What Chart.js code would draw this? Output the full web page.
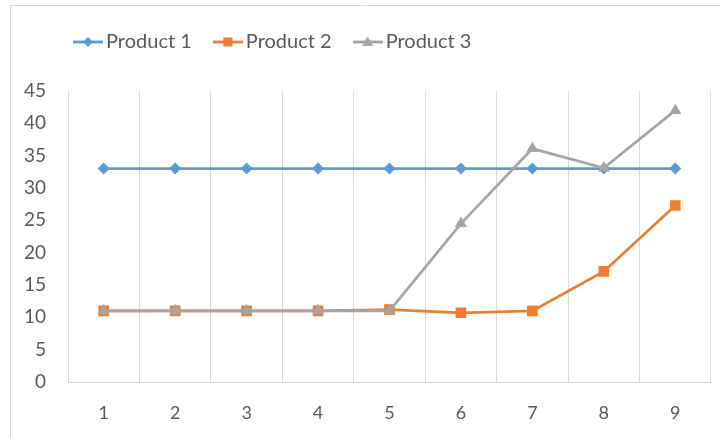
<!DOCTYPE html>
<html>
<head>
<meta charset="utf-8">
<script src="https://cdn.jsdelivr.net/npm/chart.js@4/dist/chart.umd.min.js"></script>
<style>
  html, body { margin: 0; padding: 0; background: #fff; }
  #wrap { width: 720px; height: 438px; position: relative; }
</style>
</head>
<body>
<div id="wrap"><canvas id="chart" width="720" height="438"></canvas></div>
<script>
// Categories and series values
const categories = ['1', '2', '3', '4', '5', '6', '7', '8', '9'];
const product1 = [33, 33, 33, 33, 33, 33, 33, 33, 33];
const product2 = [11, 11, 11, 11, 11.2, 10.7, 11, 17.1, 27.3];
const product3 = [11, 11, 11, 11, 11, 24.5, 36.1, 33.1, 42];
const seriesNames = ['Product 1', 'Product 2', 'Product 3'];
const yTicks = [0, 5, 10, 15, 20, 25, 30, 35, 40, 45];

const COLORS = ['#5B9BD5', '#ED7D31', '#A5A5A5'];
const TEXT = '#595959';
const GRID = '#D9D9D9';
const FONT = 'Lato, "Open Sans", sans-serif';

// Legend swatch: a short line with the series marker in the middle
function legendSwatch(color, style) {
  const c = document.createElement('canvas');
  c.width = 30; c.height = 14;
  const g = c.getContext('2d');
  g.strokeStyle = color; g.fillStyle = color; g.lineWidth = 2.75;
  g.beginPath(); g.moveTo(0, 7); g.lineTo(30, 7); g.stroke();
  g.beginPath();
  if (style === 'rectRot') {
    g.moveTo(15, 2); g.lineTo(20, 7); g.lineTo(15, 12); g.lineTo(10, 7);
  } else if (style === 'rect') {
    g.rect(10.5, 2.5, 9, 9);
  } else {
    g.moveTo(15, 1.5); g.lineTo(20.5, 11); g.lineTo(9.5, 11);
  }
  g.closePath(); g.fill();
  return c;
}

const styles = ['rectRot', 'rect', 'triangle'];
const radii = [6, 7.5, 7];
const values = [product1, product2, product3];

const datasets = values.map((v, i) => ({
  label: seriesNames[i],
  data: v,
  borderColor: COLORS[i],
  backgroundColor: COLORS[i],
  borderWidth: 2.75,
  pointStyle: styles[i],
  pointRadius: radii[i],
  pointHoverRadius: radii[i],
  pointBorderWidth: 0,
  pointBackgroundColor: COLORS[i],
  tension: 0,
  order: 2 - i
}));

const swatches = styles.map((s, i) => legendSwatch(COLORS[i], s));

// Outer frame of the chart
const frame = {
  id: 'frame',
  beforeDraw(chart) {
    const ctx = chart.ctx;
    ctx.save();
    ctx.strokeStyle = GRID; ctx.lineWidth = 1;
    ctx.beginPath();
    ctx.moveTo(10.5, 438); ctx.lineTo(10.5, 5.5); ctx.lineTo(720, 5.5);
    ctx.stroke();
    ctx.restore();
  }
};

// Extra space under the legend, and the legend's left inset
const LEGEND_GAP = 29;
const LEGEND_LEFT = 52;
const legendPlace = {
  id: 'legendPlace',
  beforeInit(chart) {
    const fit = chart.legend.fit;
    chart.legend.fit = function () {
      fit.bind(chart.legend)();
      this.height += LEGEND_GAP;
    };
  },
  afterLayout(chart) {
    const lg = chart.legend;
    const w = lg.right - lg.left;
    lg.left = LEGEND_LEFT;
    lg.right = LEGEND_LEFT + w;
  }
};

new Chart(document.getElementById('chart'), {
  type: 'line',
  data: { labels: categories, datasets },
  plugins: [frame, legendPlace],
  options: {
    responsive: false,
    animation: false,
    layout: { padding: { left: 10, right: 9, top: 4, bottom: 0 } },
    plugins: {
      tooltip: { enabled: false },
      legend: {
        position: 'top',
        align: 'start',
        labels: {
          color: TEXT,
          font: { family: FONT, size: 20 },
          usePointStyle: true,
          pointStyleWidth: 16,
          padding: 28,
          sort: (a, b) => a.datasetIndex - b.datasetIndex,
          generateLabels(chart) {
            return chart.data.datasets.map((d, i) => ({
              text: d.label,
              datasetIndex: i,
              pointStyle: swatches[i],
              fillStyle: COLORS[i],
              strokeStyle: COLORS[i],
              lineWidth: 0,
              fontColor: TEXT,
              hidden: false
            }));
          }
        }
      }
    },
    scales: {
      x: {
        offset: true,
        grid: { offset: true, color: GRID, lineWidth: 1, drawTicks: false },
        border: { color: GRID, width: 1 },
        ticks: { color: TEXT, font: { family: FONT, size: 18 }, padding: 20 },
        afterFit(scale) { scale.height = 56; }
      },
      y: {
        min: 0, max: 45,
        afterBuildTicks(scale) { scale.ticks = yTicks.map(v => ({ value: v })); },
        grid: { display: false, drawTicks: false },
        border: { display: false },
        ticks: { color: TEXT, font: { family: FONT, size: 19 }, padding: 22 },
        afterFit(scale) { scale.width = 58; }
      }
    }
  }
});
</script>
</body>
</html>
